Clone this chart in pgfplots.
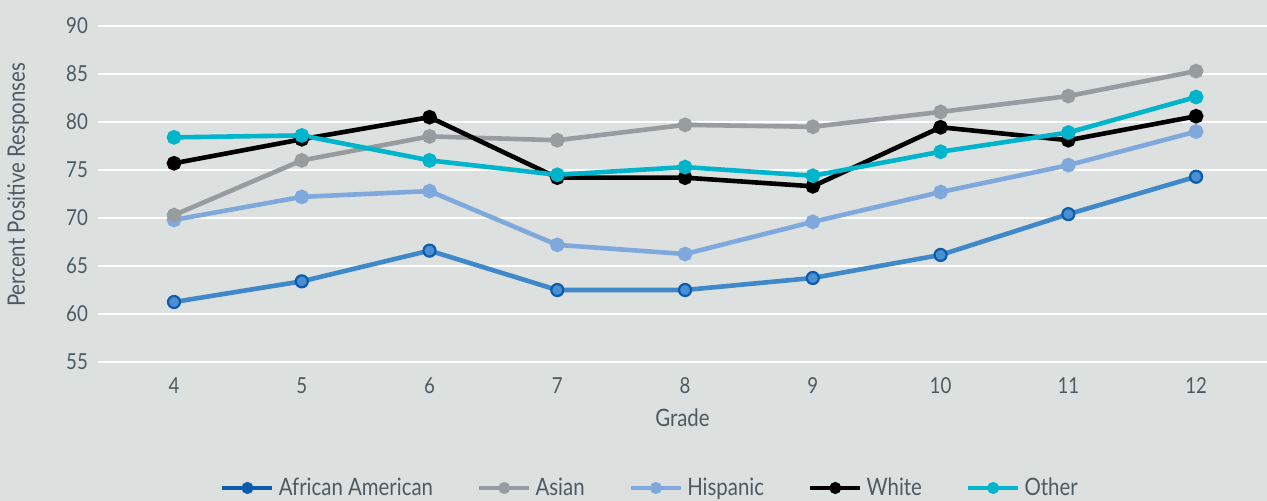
\documentclass[border=0pt]{standalone}
\usepackage{pgfplots}
\pgfplotsset{compat=1.18}
\usepackage{fontspec}
\setmainfont{Lato}[FakeStretch=0.85]
\definecolor{bg}{HTML}{DCE0DF}
\definecolor{txt}{HTML}{4D5B60}
\definecolor{aaline}{HTML}{3F88C9}
\definecolor{aamark}{HTML}{4A8FD1}
\definecolor{aadark}{HTML}{0B5CAD}
\definecolor{asian}{HTML}{979D9E}
\definecolor{hisp}{HTML}{7FA8DC}
\definecolor{other}{HTML}{00B4CC}
\begin{document}
\begin{tikzpicture}
\fill[bg] (0pt,0pt) rectangle (633.5pt,250.5pt);
\useasboundingbox (0pt,0pt) rectangle (633.5pt,250.5pt);
\begin{axis}[
  at={(49pt,69.5pt)}, anchor=south west,
  width=584.5pt, height=168pt, scale only axis,
  xmin=3.405, xmax=12.555, ymin=55, ymax=90,
  xtick={4,5,...,12}, ytick={55,60,...,90},
  ymajorgrids, grid style={white, line width=0.9pt},
  axis line style={draw=none},
  major tick length=0pt,
  tick label style={font=\fontsize{11}{13}\selectfont, text=txt},
  /pgf/number format/assume math mode=true,
  xticklabel style={yshift=-4.2pt},
  yticklabel style={xshift=-1.5pt},
  xlabel={Grade}, ylabel={Percent Positive Responses},
  label style={font=\fontsize{12}{14}\selectfont, text=txt},
  xlabel style={at={(axis description cs:0.5,-0.1667)}, anchor=center},
  ylabel style={at={(axis description cs:-0.0684,0.527)}, anchor=center},
  every axis plot/.append style={line width=2.3pt},
  legend columns=5,
  legend style={draw=none, fill=none, at={(0.473,-0.375)}, anchor=center,
    font=\fontsize{12}{14}\selectfont, text=txt,
    /tikz/every even column/.append style={column sep=20pt}},
  legend image code/.code={\draw[mark repeat=2,mark phase=2,#1] plot coordinates {(0pt,0pt) (12.5pt,0pt) (25pt,0pt)};},
]
\addplot[aaline, mark=*, mark size=3pt, mark options={fill=aamark, draw=aadark, line width=1.1pt}, forget plot] coordinates {
(4,61.25) (5,63.4) (6,66.6) (7,62.5) (8,62.5) (9,63.75) (10,66.15) (11,70.4) (12,74.3)};
\addplot[hisp, mark=*, mark size=2.5pt, forget plot] coordinates {
(4,69.8) (5,72.2) (6,72.8) (7,67.2) (8,66.25) (9,69.6) (10,72.7) (11,75.5) (12,79.0)};
\addplot[asian, mark=*, mark size=2.5pt, forget plot] coordinates {
(4,70.3) (5,76.0) (6,78.5) (7,78.1) (8,79.7) (9,79.5) (10,81.05) (11,82.7) (12,85.3)};
\addplot[black, mark=*, mark size=2.5pt, forget plot] coordinates {
(4,75.7) (5,78.2) (6,80.5) (7,74.2) (8,74.2) (9,73.3) (10,79.45) (11,78.1) (12,80.6)};
\addplot[other, mark=*, mark size=2.5pt, forget plot] coordinates {
(4,78.4) (5,78.6) (6,76.0) (7,74.5) (8,75.3) (9,74.4) (10,76.9) (11,78.9) (12,82.6)};
\addlegendimage{aadark, line width=2.3pt, mark=*, mark size=1.8pt}
\addlegendimage{asian, line width=2.3pt, mark=*, mark size=1.8pt}
\addlegendimage{hisp, line width=2.3pt, mark=*, mark size=1.8pt}
\addlegendimage{black, line width=2.3pt, mark=*, mark size=1.8pt}
\addlegendimage{other, line width=2.3pt, mark=*, mark size=1.8pt}
\legend{African American, Asian, Hispanic, White, Other}
\end{axis}
\end{tikzpicture}
\end{document}
